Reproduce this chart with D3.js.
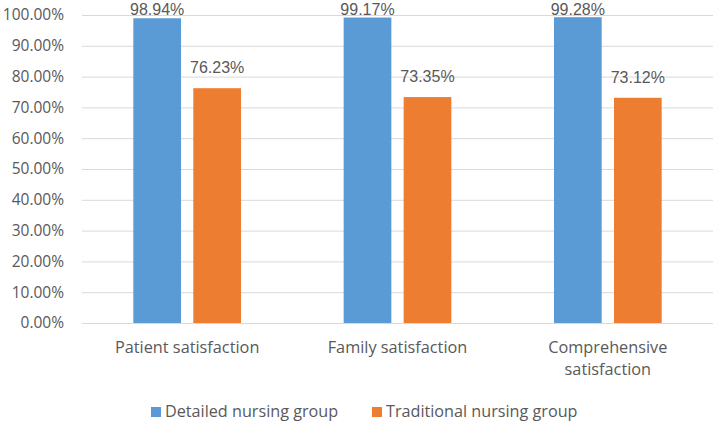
<!DOCTYPE html>
<html><head><meta charset="utf-8">
<script src="https://cdn.jsdelivr.net/npm/d3@7/dist/d3.min.js"></script>
<style>body{margin:0;background:#fff}svg{display:block}</style>
</head><body>
<svg id="c" width="714" height="423"></svg>
<script>
const categories = ["Patient satisfaction", "Family satisfaction", "Comprehensive satisfaction"];
const seriesNames = ["Detailed nursing group", "Traditional nursing group"];
const detailed = [98.94, 99.17, 99.28];
const traditional = [76.23, 73.35, 73.12];
const yTicks = [0,10,20,30,40,50,60,70,80,90,100];
const colors = ["#5B9BD5", "#ED7D31"];
const values = [detailed, traditional];

(function(){
const svg = d3.select("#c");
const font = "'Open Sans', sans-serif";
const labelFont = "'Liberation Sans', Arial, sans-serif";
const txt = "#595959";
const pLeft = 82, pRight = 713, pTop = 15, pBottom = 323;

const y = d3.scaleLinear().domain([0,100]).range([pBottom, pTop]);
const x0 = d3.scaleBand().domain(categories).range([pLeft, pRight]).paddingInner(0.488).paddingOuter(0.244);
const x1 = d3.scaleBand().domain(seriesNames).range([0, x0.bandwidth()]).paddingInner(0.205);

const yAxis = d3.axisLeft(y).tickValues(yTicks).tickSize(-(pRight-pLeft)).tickFormat(d => d.toFixed(2) + "%").tickPadding(18);
const gy = svg.append("g").attr("transform", `translate(${pLeft},0)`).call(yAxis);
gy.select(".domain").remove();
gy.selectAll(".tick line").attr("stroke", "#d9d9d9").attr("stroke-width", 1);
gy.selectAll(".tick text").attr("fill", txt).style("font-family", font).style("font-size", "15.5px").attr("x", -18).attr("text-anchor", "end");

const data = [];
categories.forEach((c, i) => seriesNames.forEach((s, j) => data.push({c, s, j, v: values[j][i]})));
svg.append("g").selectAll("rect").data(data).join("rect")
  .attr("x", d => x0(d.c) + x1(d.s))
  .attr("y", d => y(d.v))
  .attr("width", x1.bandwidth())
  .attr("height", d => y(0) - y(d.v))
  .attr("fill", d => colors[d.j]);

svg.append("g").selectAll("text").data(data).join("text")
  .attr("x", d => x0(d.c) + x1(d.s) + x1.bandwidth()/2)
  .attr("y", d => Math.max(y(d.v) - 15, 14.8))
  .attr("text-anchor", "middle")
  .attr("fill", txt).style("font-family", labelFont).style("font-size", "16px")
  .text(d => d.v.toFixed(2) + "%");

const xLabelLines = {"Patient satisfaction": ["Patient satisfaction"], "Family satisfaction": ["Family satisfaction"], "Comprehensive satisfaction": ["Comprehensive", "satisfaction"]};
const gx = svg.append("g");
categories.forEach(c => {
  const cx = x0(c) + x0.bandwidth()/2;
  const t = gx.append("text").attr("x", cx).attr("y", 353)
    .attr("text-anchor", "middle").attr("fill", txt).style("font-family", font).style("font-size", "16.3px");
  xLabelLines[c].forEach((l, k) => t.append("tspan").attr("x", cx).attr("dy", k ? 22 : 0).text(l));
});

const legX = [151, 372];
const lg = svg.append("g");
seriesNames.forEach((s, j) => {
  lg.append("rect").attr("x", legX[j]).attr("y", 407).attr("width", 10).attr("height", 10).attr("fill", colors[j]);
  lg.append("text").attr("x", legX[j] + 14).attr("y", 417).attr("fill", txt).style("font-family", font).style("font-size", "16.2px").text(s);
});
})();
</script>
</body></html>
